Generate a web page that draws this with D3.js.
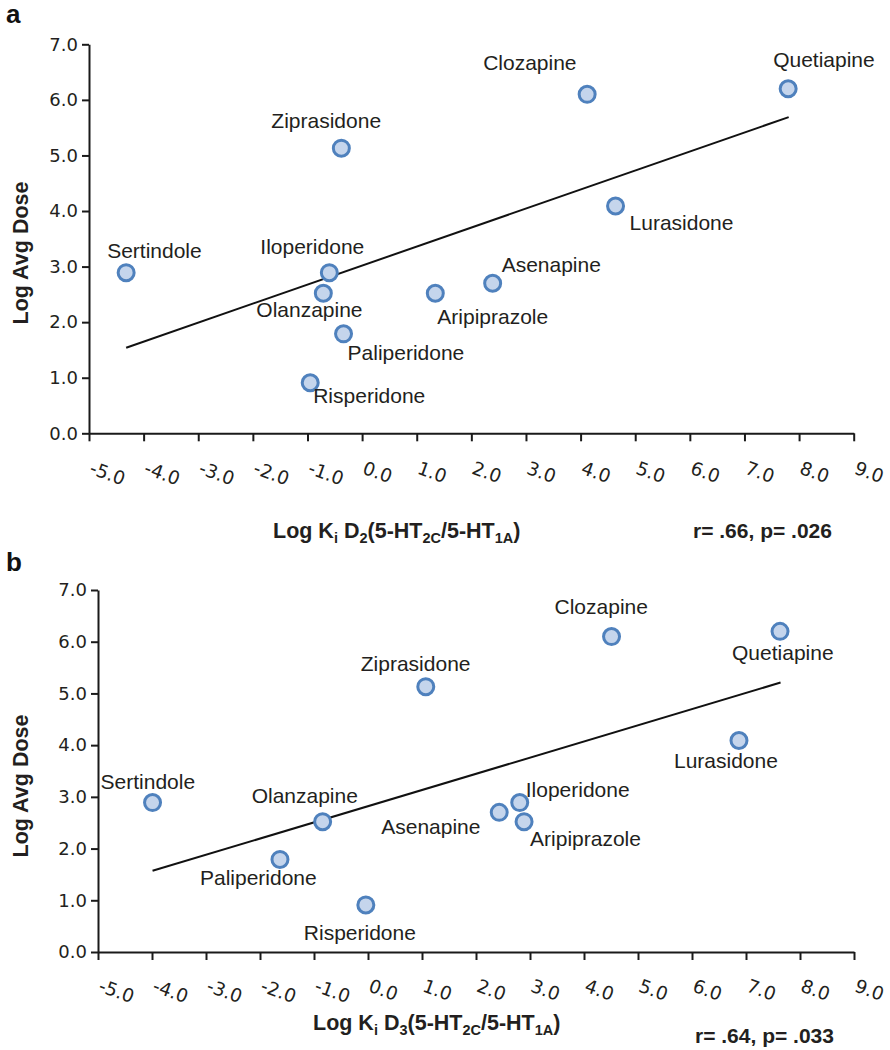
<!DOCTYPE html>
<html>
<head>
<meta charset="utf-8">
<script src="https://cdn.jsdelivr.net/npm/d3@7"></script>
<style>
  html, body { margin: 0; padding: 0; background: #fff; }
  svg { display: block; }
</style>
</head>
<body>
<svg id="chart" width="890" height="1050"></svg>
<script>
// ---------- data ----------
const drugs = ["Sertindole","Ziprasidone","Iloperidone","Olanzapine","Paliperidone","Risperidone","Aripiprazole","Asenapine","Clozapine","Lurasidone","Quetiapine"];
const logAvgDose = [2.89, 5.13, 2.89, 2.52, 1.79, 0.91, 2.52, 2.70, 6.10, 4.09, 6.20];
const logKiD2 = [-4.32, -0.38, -0.60, -0.71, -0.34, -0.95, 1.34, 2.39, 4.12, 4.64, 7.80];
const logKiD3 = [-3.99, 1.07, 2.81, -0.84, -1.63, -0.04, 2.89, 2.43, 4.51, 6.87, 7.63];
const fitD2X = [-4.32, 7.81];
const fitD2Y = [1.54, 5.69];
const fitD3X = [-3.99, 7.64];
const fitD3Y = [1.57, 5.21];
const xTicks = [-5, -4, -3, -2, -1, 0, 1, 2, 3, 4, 5, 6, 7, 8, 9];
const yTicks = [0, 1, 2, 3, 4, 5, 6, 7];
const statsA = "r= .66, p= .026";
const statsB = "r= .64, p= .033";

// ---------- layout (label placement: text start / baseline offsets from point) ----------
const labelOffsetsA = {
  Sertindole: [-19, -15], Ziprasidone: [-70, -20], Iloperidone: [-69, -19], Olanzapine: [-67, 24],
  Paliperidone: [4, 26], Risperidone: [3, 20], Aripiprazole: [2, 31], Asenapine: [9, -11],
  Clozapine: [-104, -24], Lurasidone: [14, 24], Quetiapine: [-15, -22]
};
const labelOffsetsB = {
  Sertindole: [-52, -14], Ziprasidone: [-65, -16], Iloperidone: [6, -6], Olanzapine: [-71, -19],
  Paliperidone: [-80, 26], Risperidone: [-62, 35], Aripiprazole: [6, 24], Asenapine: [-118, 22],
  Clozapine: [-57, -23], Lurasidone: [-65, 28], Quetiapine: [-48, 29]
};

const svg = d3.select("#chart");
const textColor = "#231f20";
const fmt = v => v.toFixed(1);

function panel(opts) {
  const g = svg.append("g");
  const x = d3.scaleLinear().domain([-5, 9]).range(opts.xr);
  const y = d3.scaleLinear().domain([0, 7]).range(opts.yr);

  // y axis
  const ya = g.append("g").attr("transform", `translate(${opts.xr[0]},0)`)
    .call(d3.axisLeft(y).tickValues(yTicks).tickFormat(fmt).tickSize(7).tickSizeOuter(0).tickPadding(4));
  ya.attr("font-family", "DejaVu Sans").attr("font-size", 18);
  ya.select(".domain").attr("stroke", "#1a1a1a").attr("stroke-width", 2);
  ya.selectAll(".tick line").attr("stroke", "#1a1a1a").attr("stroke-width", 2);
  ya.selectAll(".tick text").attr("fill", textColor);

  // x axis
  const xa = g.append("g").attr("transform", `translate(0,${opts.yr[0]})`)
    .call(d3.axisBottom(x).tickValues(xTicks).tickFormat(fmt).tickSize(8).tickSizeOuter(0));
  xa.attr("font-family", "DejaVu Sans").attr("font-size", 18.5);
  xa.select(".domain").attr("stroke", "#1a1a1a").attr("stroke-width", 2);
  xa.selectAll(".tick line").attr("stroke", "#1a1a1a").attr("stroke-width", 2);
  xa.selectAll(".tick text")
    .attr("fill", textColor)
    .attr("text-anchor", "start").attr("x", 0).attr("y", 0).attr("dy", 0)
    .attr("transform", `translate(-1,${opts.tickLabelDy}) rotate(20)`);

  // trend line
  g.append("line")
    .attr("x1", x(opts.fitX[0])).attr("y1", y(opts.fitY[0]))
    .attr("x2", x(opts.fitX[1])).attr("y2", y(opts.fitY[1]))
    .attr("stroke", "#111").attr("stroke-width", 2);

  // points
  const pts = drugs.map((d, i) => ({ name: d, xv: opts.xs[i], yv: logAvgDose[i] }));
  g.selectAll("circle.pt").data(pts).enter().append("circle")
    .attr("class", "pt")
    .attr("cx", d => x(d.xv)).attr("cy", d => y(d.yv)).attr("r", 8)
    .attr("fill", "#c5d5ec").attr("stroke", "#4f81bd").attr("stroke-width", 3);

  // point labels
  g.selectAll("text.lbl").data(pts).enter().append("text")
    .attr("class", "lbl")
    .attr("x", d => x(d.xv) + opts.offsets[d.name][0])
    .attr("y", d => y(d.yv) + opts.offsets[d.name][1])
    .attr("font-family", "Liberation Sans, Arial, sans-serif").attr("font-size", 21)
    .attr("fill", textColor).text(d => d.name);

  // y title
  g.append("text")
    .attr("transform", `translate(28,${opts.yTitleY}) rotate(-90)`)
    .attr("text-anchor", "middle")
    .attr("font-family", "Liberation Sans, Arial, sans-serif").attr("font-size", 21.5).attr("font-weight", "bold")
    .attr("fill", textColor).text("Log Avg Dose");

  // x title with subscripts
  const t = g.append("text")
    .attr("x", opts.xTitle[0]).attr("y", opts.xTitle[1])
    .attr("font-family", "Liberation Sans, Arial, sans-serif").attr("font-size", 21.5).attr("font-weight", "bold")
    .attr("fill", textColor);
  const parts = [["Log K", false], ["i", true], [" D", false], [opts.dSub, true], ["(5-HT", false], ["2C", true], ["/5-HT", false], ["1A", true], [")", false]];
  let shift = 0;
  parts.forEach(([s, sub]) => {
    const target = sub ? 5 : 0;
    t.append("tspan").attr("font-size", sub ? 14.5 : 21.5)
      .attr("dy", target - shift).text(s);
    shift = target;
  });

  // stats text
  g.append("text")
    .attr("x", opts.stats[0]).attr("y", opts.stats[1])
    .attr("font-family", "Liberation Sans, Arial, sans-serif").attr("font-size", 21).attr("font-weight", "bold")
    .attr("fill", textColor).text(opts.statsText);

  // panel letter
  g.append("text")
    .attr("x", 6).attr("y", opts.letterY)
    .attr("font-family", "Liberation Sans, Arial, sans-serif").attr("font-size", 26).attr("font-weight", "bold")
    .attr("fill", "#111").text(opts.letter);
}

panel({
  xr: [89, 853.7], yr: [433.3, 44.3], xs: logKiD2, fitX: fitD2X, fitY: fitD2Y,
  offsets: labelOffsetsA, tickLabelDy: 40, yTitleY: 253, xTitle: [273, 538], dSub: "2",
  stats: [693, 538], statsText: statsA, letter: "a", letterY: 23
});
panel({
  xr: [98, 854], yr: [952, 590], xs: logKiD3, fitX: fitD3X, fitY: fitD3Y,
  offsets: labelOffsetsB, tickLabelDy: 39, yTitleY: 786, xTitle: [313, 1030], dSub: "3",
  stats: [695, 1043], statsText: statsB, letter: "b", letterY: 571
});
</script>
</body>
</html>
